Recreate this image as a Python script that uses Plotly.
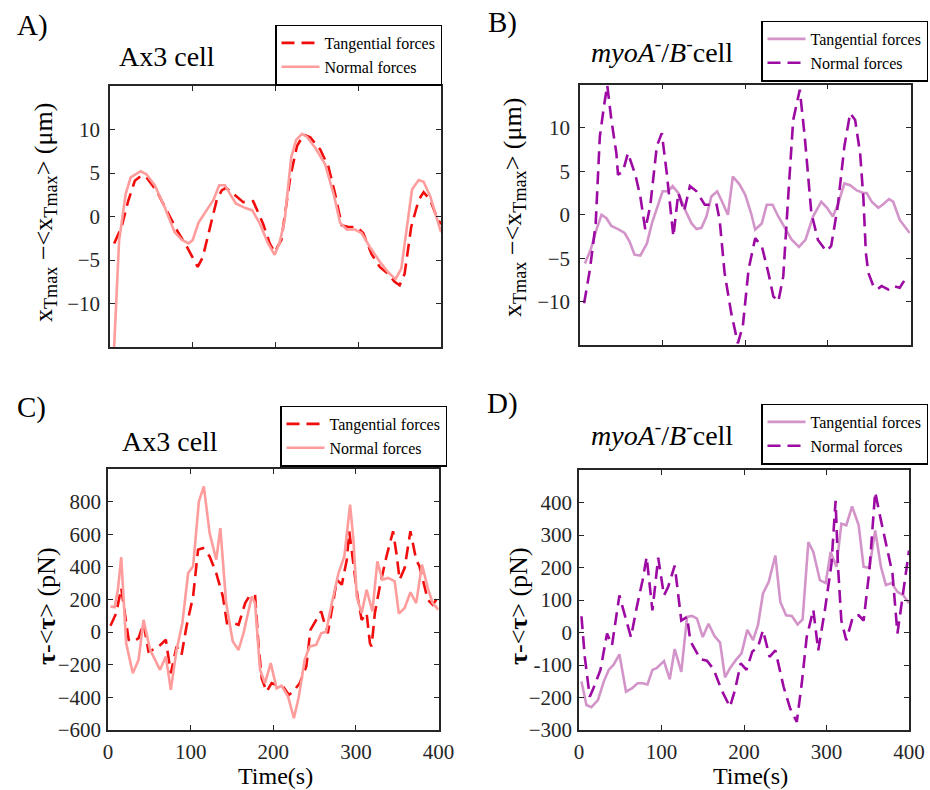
import plotly.graph_objects as go

# ---------------- Panel A: Ax3 cell, position of max traction (um) ----------------
a_tan_t = [5, 14, 22, 30, 38, 44, 56, 68, 81, 93, 99, 106, 112, 121, 129, 135, 140, 149, 161, 173,
           185, 193, 199, 207, 218, 226, 234, 242, 254, 264, 272, 280, 288, 298, 306, 316, 326, 336,
           344, 350, 356, 364, 373, 379, 387, 395, 400]
a_tan_v = [-3.1, -1.2, 1.8, 4.1, 4.7, 4.5, 3.0, 0.7, -1.6, -3.5, -4.5, -5.8, -4.7, -1.2, 1.9, 3.0, 3.3,
           2.6, 1.65, 1.76, -0.84, -3.1, -4.1, -2.7, 4.6, 8.1, 9.4, 9.1, 7.7, 5.7, 2.6, -1.0, -1.2, -1.2,
           -1.9, -4.3, -5.8, -6.6, -7.5, -7.9, -6.6, -1.2, 1.9, 2.8, 1.9, -0.1, -0.9]
a_nor_t = [4, 11, 19, 25, 37, 44, 54, 66, 78, 87, 95, 100, 107, 125, 132, 139, 145, 152, 163, 172,
           181, 191, 199, 205, 211, 219, 225, 232, 238, 248, 260, 271, 278, 286, 296, 304, 314, 326,
           336, 345, 352, 358, 365, 373, 379, 387, 400]
a_nor_v = [-17.0, -2.8, 2.6, 4.5, 5.2, 4.85, 3.6, 1.1, -1.8, -2.7, -3.1, -2.7, -0.7, 1.9, 3.6, 3.6,
           2.6, 1.5, 1.0, 0.7, -0.8, -3.1, -4.4, -3.0, -0.5, 6.8, 8.8, 9.5, 9.15, 7.9, 6.0, 2.3, -0.7,
           -1.5, -1.5, -1.9, -3.5, -5.2, -6.4, -7.2, -6.0, -1.9, 3.1, 4.2, 4.0, 2.3, -1.8]

# ---------------- Panel B: myoA-/B- cell, position of max traction (um) ----------------
b_tan_t = [6, 13, 20, 26, 32, 38, 46, 54, 60, 66, 73, 81, 87, 94, 100, 107, 112, 119, 127, 135, 141,
           147, 153, 159, 166, 172, 179, 185, 193, 200, 207, 212, 220, 226, 233, 240, 248, 256, 265,
           273, 282, 292, 299, 306, 312, 320, 327, 335, 343, 347, 353, 361, 367, 374, 379, 387, 399]
b_tan_v = [-5.6, -4.0, -1.7, 0.0, -0.4, -1.3, -1.65, -2.1, -3.1, -4.6, -4.7, -3.3, -1.0, 1.0, 2.7,
           2.7, 3.3, 2.5, 0.6, -1.0, -1.65, -1.5, -0.2, 2.1, 2.7, 1.5, 0.0, 4.4, 3.5, 2.3, 0.2, -1.7,
           -1.0, 1.15, 1.15, -0.2, -1.5, -2.85, -3.7, -2.85, -0.2, 1.5, 0.8, -0.2, 1.15, 3.6, 3.4, 2.8,
           2.5, 2.5, 1.5, 0.8, 1.2, 1.8, 1.5, -0.6, -2.1]
b_nor_t = [5, 12, 19, 24, 29, 33, 38, 44, 46, 52, 58, 67, 73, 79, 85, 93, 99, 105, 113, 119, 126,
           133, 141, 151, 159, 165, 169, 175, 183, 191, 197, 204, 212, 220, 228, 234, 240, 246, 252,
           258, 266, 272, 280, 288, 298, 304, 312, 320, 327, 333, 339, 343, 346, 349, 355, 360, 365,
           373, 379, 387, 393, 400]
b_nor_v = [-10.2, -6.3, -1.0, 9.0, 12.5, 14.9, 10.9, 7.1, 4.6, 5.0, 7.1, 4.6, 2.1, -1.7, 1.0, 7.9,
           9.4, 4.8, -2.5, 2.5, 0.4, 3.3, 2.7, 1.15, 1.15, 1.3, -0.6, -6.7, -11.3, -14.8, -12.9, -6.3,
           -2.7, -3.6, -6.7, -9.4, -10.0, -7.1, 2.1, 10.9, 14.4, 9.0, 0.2, -2.9, -4.2, -3.6, 1.0, 7.9,
           11.7, 10.9, 7.1, 1.9, -4.4, -6.7, -8.2, -8.6, -8.2, -8.6, -8.2, -8.4, -7.5, -7.3]

# ---------------- Panel C: Ax3 cell, torque fluctuation (pN) ----------------
c_tan_t = [3, 10, 16, 21, 25, 31, 37, 43, 49, 59, 70, 76, 83, 89, 95, 103, 109, 115, 123, 131, 139,
           144, 151, 158, 166, 171, 178, 182, 186, 192, 198, 204, 212, 219, 224, 232, 240, 245, 252,
           258, 262, 266, 273, 277, 283, 289, 292, 297, 302, 307, 313, 317, 319, 323, 329, 337, 345,
           349, 353, 359, 366, 373, 377, 383, 387, 393, 400]
c_tan_v = [39, 117, 270, 106, -47, -58, -37, 55, -119, -99, -47, -252, -88, -140, 35, 219, 505, 515,
           464, 362, 219, 55, 55, 45, 178, 219, 229, -68, -283, -365, -313, -324, -334, -385, -365,
           -313, -211, 14, 75, 127, 55, -7, 198, 321, 291, 444, 618, 403, 219, 75, 117, -68, -88, 117,
           281, 464, 618, 485, 321, 393, 618, 444, 403, 281, 198, 168, 219]
c_nor_t = [3, 8, 12, 16, 22, 30, 37, 43, 51, 63, 70, 76, 83, 90, 97, 103, 110, 116, 123, 131, 136,
           143, 151, 158, 164, 174, 178, 184, 190, 197, 204, 210, 218, 225, 231, 238, 244, 252, 258,
           264, 270, 279, 286, 293, 297, 301, 307, 313, 320, 326, 332, 339, 347, 352, 359, 366, 373,
           380, 387, 393, 400]
c_nor_v = [157, 153, 261, 460, -68, -252, -170, 75, -109, -231, -150, -354, -109, 55, 362, 403, 801,
           893, 607, 444, 638, 178, -58, -109, -7, 218, 178, -231, -313, -190, -344, -329, -395, -528,
           -395, -170, -88, -78, -7, 3, 157, 362, 464, 781, 567, 219, 117, 260, 127, 434, 322, 332, 311,
           113, 148, 244, 178, 414, 271, 178, 137]

# ---------------- Panel D: myoA-/B- cell, torque fluctuation (pN) ----------------
d_tan_t = [3, 9, 15, 23, 30, 36, 42, 49, 57, 64, 71, 77, 83, 89, 94, 103, 110, 116, 124, 131, 137,
           143, 150, 157, 164, 171, 177, 183, 190, 197, 204, 211, 217, 223, 230, 238, 244, 251, 258,
           265, 271, 278, 284, 292, 299, 305, 312, 318, 324, 331, 339, 345, 352, 359, 366, 372, 379,
           386, 393, 400]
d_tan_v = [-151, -223, -230, -208, -151, -115, -99, -67, -182, -172, -156, -156, -160, -115, -110,
           -88, -144, -51, -121, 48, 51, 43, -14, 27, -10, -31, -138, -110, -85, -64, 8, -23, 23, 120,
           156, 237, 94, 53, 51, 25, 40, 278, 248, 161, 152, 248, 202, 335, 330, 388, 330, 202, 199,
           314, 202, 146, 152, 125, 115, 90]
d_nor_t = [3, 7, 13, 17, 26, 34, 40, 49, 55, 63, 70, 77, 82, 89, 96, 103, 108, 116, 124, 131, 135,
           141, 147, 155, 163, 173, 183, 189, 196, 203, 210, 217, 223, 231, 238, 248, 256, 264, 270,
           276, 284, 290, 298, 306, 311, 314, 318, 324, 332, 339, 345, 352, 359, 366, 374, 380, 386,
           393, 400]
d_nor_v = [50, -75, -198, -175, -115, -3, -39, 114, 58, -14, 78, 160, 232, 68, 230, 114, 140, 206,
           37, 48, -26, -55, -82, -87, -112, -178, -229, -178, -95, -115, -59, -44, 7, -75, -55, -167,
           -234, -275, -157, -14, 70, -55, 68, 211, 405, 201, 37, -24, 48, 53, 37, 191, 432, 345, 252,
           181, -3, 131, 252]

# tick labels
xticks = [0, 100, 200, 300, 400]
pos_ticks = [-10, -5, 0, 5, 10]
c_ticks = [-600, -400, -200, 0, 200, 400, 600, 800]
d_ticks = [-300, -200, -100, 0, 100, 200, 300, 400]
d_ticktext = ["\u2212300", "\u2212200", "-100", "0", "100", "200", "300", "400"]

RED = "#f20d0d"
PINK = "#ff9c9c"
LILAC = "#d394c9"
PURPLE = "#9c0aa3"
INK = "#262626"
SERIF = "Times New Roman, Liberation Serif, Tinos, serif"
W, H = 930, 790
DASH = "13px,7px"


def px(x):
    return x / W


def py(y):
    return 1 - y / H


fig = go.Figure()


def add(t, v, name, color, dash, xa, ya, leg):
    fig.add_trace(go.Scatter(
        x=t, y=v, mode="lines", name=name,
        line=dict(color=color, width=2.6, dash=dash),
        xaxis=xa, yaxis=ya, legend=leg,
    ))


add(a_tan_t, a_tan_v, "Tangential forces", RED, DASH, "x", "y", "legend")
add(a_nor_t, a_nor_v, "Normal forces", PINK, "solid", "x", "y", "legend")
add(b_tan_t, b_tan_v, "Tangential forces", LILAC, "solid", "x2", "y2", "legend2")
add(b_nor_t, b_nor_v, "Normal forces", PURPLE, DASH, "x2", "y2", "legend2")
add(c_tan_t, c_tan_v, "Tangential forces", RED, DASH, "x3", "y3", "legend3")
add(c_nor_t, c_nor_v, "Normal forces", PINK, "solid", "x3", "y3", "legend3")
add(d_tan_t, d_tan_v, "Tangential forces", LILAC, "solid", "x4", "y4", "legend4")
add(d_nor_t, d_nor_v, "Normal forces", PURPLE, DASH, "x4", "y4", "legend4")

# panel frames (left, right, top, bottom in pixels) and y tick-label gap
frames = {
    "1": (110, 441, 86, 347, 4),
    "2": (580, 910.5, 84.5, 345, 4),
    "3": (108, 438.5, 469, 730, 1),
    "4": (579, 909, 470, 730, 1),
}

tickfont = dict(family=SERIF, size=21, color=INK)
layout = {}
for k, (l, r, t, b, gap) in frames.items():
    sfx = "" if k == "1" else k
    bottom_row = k in ("3", "4")
    layout["xaxis" + sfx] = dict(
        domain=[px(l), px(r)], range=[0, 400], tickvals=xticks,
        anchor="y" + sfx, showline=True, mirror="ticks", linecolor=INK, linewidth=1.5,
        ticks="inside", ticklen=5, tickcolor=INK, showgrid=False, zeroline=False,
        showticklabels=bottom_row, tickfont=tickfont, ticklabelstandoff=2,
    )
    layout["yaxis" + sfx] = dict(
        domain=[py(b), py(t)], anchor="x" + sfx, showline=True, mirror="ticks",
        linecolor=INK, linewidth=1.5, ticks="inside", ticklen=5, tickcolor=INK,
        showgrid=False, zeroline=False, tickfont=tickfont, ticklabelstandoff=gap,
    )

layout["yaxis"].update(range=[-15, 15], tickvals=pos_ticks)
layout["yaxis2"].update(range=[-15, 15], tickvals=pos_ticks)
layout["yaxis3"].update(range=[-600, 1000], tickvals=c_ticks)
layout["yaxis4"].update(range=[-300, 500], tickvals=d_ticks, ticktext=d_ticktext)

legend_style = dict(
    bgcolor="white", bordercolor="black", borderwidth=1.5,
    font=dict(family=SERIF, size=16, color="black"),
    xanchor="right", yanchor="middle", itemwidth=38, tracegroupgap=0,
)
layout["legend"] = dict(x=px(442), y=py(55), **legend_style)
layout["legend2"] = dict(x=px(928), y=py(51), **legend_style)
layout["legend3"] = dict(x=px(447), y=py(436), **legend_style)
layout["legend4"] = dict(x=px(928), y=py(434), **legend_style)

fig.update_layout(
    width=W, height=H, margin=dict(l=0, r=0, t=0, b=0, autoexpand=False),
    paper_bgcolor="white", plot_bgcolor="white", showlegend=True,
    font=dict(family=SERIF, color="black"),
    **layout,
)


def note(text, x, y, size, angle=0, xanchor="center"):
    fig.add_annotation(
        text=text, x=px(x), y=py(y), xref="paper", yref="paper",
        showarrow=False, textangle=angle, xanchor=xanchor, yanchor="middle",
        font=dict(family=SERIF, size=size, color="black"),
    )


# panel letters
note("A)", 32, 26, 29)
note("B)", 502, 22, 29)
note("C)", 31, 407, 29)
note("D)", 502, 404, 29)

# panel titles
note("Ax3 cell", 167, 57, 28)
note("Ax3 cell", 170, 441, 28)
myo = "<i>myoA</i><sup>-</sup>/<i>B</i><sup>-</sup>cell"
note(myo, 662, 50, 28)
note(myo, 662, 433, 28)

# y-axis titles
ylab_pos = "x<sub>Tmax</sub> \u2212&lt;x<sub>Tmax</sub>&gt; (\u03bcm)"
ylab_tau = "<b>\u03c4</b>-&lt;<b>\u03c4</b>&gt; (pN)"
note(ylab_pos, 45, 213, 26, angle=-90)
note(ylab_pos, 514, 208, 26, angle=-90)
note(ylab_tau, 46, 606, 26, angle=-90)
note(ylab_tau, 518, 606, 26, angle=-90)

# x-axis titles
note("Time(s)", 275, 776, 24)
note("Time(s)", 750, 776, 24)

fig.write_html("out.html")
